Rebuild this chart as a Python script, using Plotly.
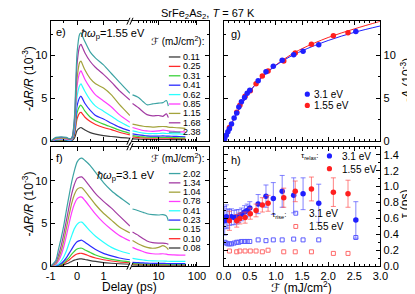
import plotly.graph_objects as go

W, H = 415, 294
def fx(p): return p / W
def fy(p): return 1 - p / H

FONT = "Liberation Sans, Arial, DejaVu Sans, sans-serif"

# ---------------- data ----------------
colors = ["#3c3c3c", "#ff2a2a", "#3cd23c", "#2a2aff", "#2affff", "#ff3cff", "#a3a33c", "#a33ca3", "#3ca3a3"]

# panel e (1.55 eV pump), fluences ascending
fluence_e = ["0.11", "0.25", "0.31", "0.41", "0.62", "0.85", "1.15", "1.68", "2.38"]
t_left_e = [-1.0, -0.8, -0.6, -0.4, -0.3, -0.2, -0.1, 0.0, 0.1, 0.15, 0.2, 0.3, 0.5, 0.7, 1.0, 1.3, 1.6, 2.0]
t_right = [2.1, 3, 4, 5, 7, 10, 13, 16, 18, 25, 35, 50]

e_left_011 = [0, 0.05, 0.05, 0.05, 0.02, 0.05, 0.35, 1.25, 1.55, 1.6, 1.5, 1.3, 1.0, 0.82, 0.65, 0.55, 0.45, 0.35]
e_left_025 = [0, 0.1, 0.1, 0.1, 0.05, 0.1, 0.7, 2.6, 3.3, 3.37, 3.2, 2.8, 2.3, 1.95, 1.6, 1.35, 1.05, 0.75]
e_left_031 = [0, 0.1, 0.15, 0.1, 0.05, 0.1, 0.9, 3.3, 4.1, 4.2, 4.0, 3.5, 2.8, 2.4, 2.0, 1.65, 1.3, 0.92]
e_left_041 = [0, 0.15, 0.2, 0.15, 0.1, 0.15, 1.1, 4.1, 5.1, 5.25, 5.0, 4.4, 3.6, 3.0, 2.6, 2.1, 1.65, 1.2]
e_left_062 = [0, 0.2, 0.25, 0.2, 0.1, 0.2, 1.4, 5.2, 6.5, 6.7, 6.4, 5.8, 4.8, 4.1, 3.5, 2.9, 2.3, 1.65]
e_left_085 = [0, 0.25, 0.3, 0.25, 0.15, 0.25, 1.7, 6.4, 8.0, 8.2, 7.9, 7.2, 6.2, 5.4, 4.7, 4.0, 3.1, 2.2]
e_left_115 = [0, 0.3, 0.35, 0.3, 0.2, 0.3, 1.9, 7.3, 9.2, 9.35, 9.0, 8.3, 7.3, 6.7, 6.2, 5.4, 4.3, 3.0]
e_left_168 = [0, 0.4, 0.45, 0.4, 0.25, 0.35, 2.4, 9.0, 11.1, 11.3, 11.0, 10.3, 9.3, 8.6, 7.8, 6.9, 5.9, 4.8]
e_left_238 = [0, 0.45, 0.5, 0.45, 0.3, 0.4, 2.8, 10.3, 12.5, 12.65, 12.3, 11.6, 10.4, 9.7, 8.9, 7.9, 6.9, 5.6]

e_right_011 = [0.27, 0.24, 0.22, 0.21, 0.2, 0.2, 0.2, 0.2, 0.2, 0.19, 0.18, 0.18]
e_right_025 = [0.5, 0.42, 0.38, 0.36, 0.35, 0.35, 0.35, 0.35, 0.35, 0.33, 0.32, 0.3]
e_right_031 = [0.65, 0.55, 0.5, 0.47, 0.45, 0.45, 0.46, 0.45, 0.45, 0.42, 0.4, 0.4]
e_right_041 = [0.85, 0.75, 0.68, 0.63, 0.6, 0.6, 0.62, 0.6, 0.6, 0.57, 0.55, 0.52]
e_right_062 = [1.2, 1.05, 0.95, 0.9, 0.9, 0.9, 0.95, 0.9, 0.9, 0.85, 0.85, 0.8]
e_right_085 = [1.6, 1.4, 1.25, 1.2, 1.15, 1.2, 1.3, 1.25, 1.2, 1.15, 1.1, 1.1]
e_right_115 = [2.0, 1.85, 1.75, 1.7, 1.65, 1.7, 1.72, 1.7, 1.65, 1.6, 1.55, 1.5]
e_right_168 = [4.4, 3.9, 3.4, 3.1, 2.95, 3.0, 2.9, 3.2, 2.75, None, None, None]
e_right_238 = [5.4, 5.1, 4.6, 4.25, 4.35, 4.45, 4.5, 4.75, 4.1, None, None, None]

# panel f (3.1 eV pump), fluences ascending
fluence_f = ["0.08", "0.10", "0.15", "0.23", "0.41", "0.78", "1.04", "1.34", "2.02"]
t_left_f = [-1.0, -0.8, -0.7, -0.6, -0.5, -0.4, -0.3, -0.2, -0.1, 0.0, 0.1, 0.18, 0.3, 0.5, 0.7, 1.0, 1.3, 1.6, 2.0]

f_left_008 = [0, 0.01, 0.04, 0.08, 0.15, 0.27, 0.4, 0.55, 0.7, 0.8, 0.85, 0.85, 0.78, 0.65, 0.55, 0.42, 0.34, 0.28, 0.22]
f_left_010 = [0, 0.02, 0.07, 0.15, 0.28, 0.5, 0.72, 1.0, 1.25, 1.42, 1.5, 1.5, 1.38, 1.15, 0.95, 0.75, 0.6, 0.48, 0.38]
f_left_015 = [0, 0.03, 0.1, 0.2, 0.4, 0.7, 1.0, 1.4, 1.75, 2.0, 2.1, 2.1, 1.9, 1.6, 1.3, 1.0, 0.8, 0.65, 0.5]
f_left_023 = [0, 0.05, 0.15, 0.3, 0.6, 1.0, 1.5, 2.0, 2.5, 2.85, 3.0, 3.04, 2.8, 2.35, 1.95, 1.5, 1.2, 0.95, 0.75]
f_left_041 = [0, 0.1, 0.25, 0.6, 1.1, 1.8, 2.7, 3.6, 4.4, 4.9, 5.15, 5.16, 4.8, 4.1, 3.5, 2.8, 2.2, 1.8, 1.45]
f_left_078 = [0, 0.2, 0.6, 1.3, 2.3, 3.6, 5.0, 6.3, 7.3, 7.9, 8.1, 8.1, 7.7, 6.9, 6.1, 5.1, 4.3, 3.6, 2.95]
f_left_104 = [0, 0.3, 0.9, 1.8, 3.0, 4.5, 6.0, 7.4, 8.4, 9.0, 9.2, 9.2, 8.8, 8.0, 7.2, 6.2, 5.4, 4.6, 3.9]
f_left_134 = [0, 0.5, 1.3, 2.4, 3.8, 5.4, 7.0, 8.5, 9.6, 10.3, 10.45, 10.47, 10.1, 9.3, 8.5, 7.6, 6.8, 5.9, 4.7]
f_left_202 = [0, 0.7, 2.0, 3.3, 4.8, 6.6, 8.3, 9.9, 11.2, 12.2, 12.6, 12.67, 12.4, 11.8, 11.0, 9.8, 8.85, 8.1, 7.2]

f_right_008 = [0.13, 0.12, 0.11, 0.11, 0.1, 0.1, 0.1, 0.1, 0.1, 0.1, 0.1, 0.1]
f_right_010 = [0.22, 0.2, 0.19, 0.18, 0.17, 0.17, 0.17, 0.17, 0.16, 0.16, 0.16, 0.15]
f_right_015 = [0.3, 0.27, 0.25, 0.24, 0.23, 0.22, 0.22, 0.22, 0.21, 0.21, 0.2, 0.2]
f_right_023 = [0.45, 0.4, 0.37, 0.35, 0.33, 0.32, 0.32, 0.31, 0.3, 0.3, 0.3, 0.3]
f_right_041 = [0.9, 0.8, 0.72, 0.66, 0.62, 0.6, 0.6, 0.58, 0.57, 0.56, 0.55, 0.55]
f_right_078 = [2.2, 1.9, 1.7, 1.55, 1.45, 1.42, 1.45, 1.4, 1.35, 1.32, 1.3, 1.3]
f_right_104 = [3.0, 2.6, 2.35, 2.2, 2.1, 2.2, 2.4, 2.2, 1.95, None, None, None]
f_right_134 = [4.0, 3.6, 3.2, 2.95, 2.75, 2.7, 2.7, 2.65, 2.55, None, None, None]
f_right_202 = [6.7, 6.5, 6.3, 6.15, 6.05, 6.0, 6.05, 5.9, 5.3, None, None, None]

# panels g, h
F_blue = [0.02, 0.05, 0.08, 0.11, 0.15, 0.20, 0.25, 0.29, 0.34, 0.40, 0.45, 0.50, 0.66, 0.81, 0.95, 1.12, 1.34, 1.52, 1.82, 2.53]
A_blue = [0.3, 0.7, 1.1, 1.45, 2.0, 2.7, 3.3, 4.0, 4.6, 5.1, 5.6, 5.95, 7.05, 8.1, 8.75, 9.45, 10.1, 10.5, 11.25, 12.8]
relax_blue = [0.57, 0.62, 0.60, 0.61, 0.62, 0.61, 0.62, 0.63, 0.65, 0.68, 0.70, 0.73, 0.78, 0.88, 0.85, 0.94, 0.89, 0.91, 0.79, 0.58]
relax_blue_err = [0.18, 0.15, 0.12, 0.10, 0.10, 0.09, 0.09, 0.08, 0.08, 0.08, 0.08, 0.08, 0.12, 0.14, 0.20, 0.20, 0.22, 0.20, 0.24, 0.23]
rise_blue = [0.30, 0.29, 0.28, 0.28, 0.28, 0.29, 0.30, 0.30, 0.31, 0.31, 0.31, 0.31, 0.33, 0.32, 0.33, 0.33, 0.34, 0.33, 0.33, 0.36]

F_red = [0.11, 0.25, 0.31, 0.41, 0.51, 0.62, 0.74, 0.85, 1.15, 1.37, 1.68, 2.10, 2.38]
A_red = [1.6, 3.37, 4.2, 5.25, 5.9, 6.7, 7.6, 8.2, 9.35, 10.3, 11.3, 12.3, 12.65]
relax_red = [0.57, 0.57, 0.60, 0.61, 0.66, 0.70, 0.77, 0.79, 0.86, 0.94, 0.97, 0.93, 0.91]
relax_red_err = [0.12, 0.08, 0.07, 0.07, 0.07, 0.08, 0.09, 0.10, 0.12, 0.13, 0.15, 0.18, 0.17]
rise_red = [0.19, 0.18, 0.19, 0.19, 0.19, 0.19, 0.18, 0.20, 0.18, 0.18, 0.18, 0.16, 0.16]

F_fit = [0, 0.05, 0.1, 0.2, 0.3, 0.4, 0.5, 0.75, 1.0, 1.25, 1.5, 2.0, 2.5, 3.0]
fit_blue = [0, 0.65, 1.35, 2.65, 3.8, 4.85, 5.8, 7.55, 8.85, 9.8, 10.55, 11.75, 12.7, 13.45]
fit_red = [0, 0.65, 1.35, 2.65, 3.8, 4.85, 5.8, 7.6, 8.9, 9.95, 10.8, 12.1, 13.1, 14.0]

# ---------------- figure ----------------
fig = go.Figure()

e_left = [e_left_011, e_left_025, e_left_031, e_left_041, e_left_062, e_left_085, e_left_115, e_left_168, e_left_238]
e_right = [e_right_011, e_right_025, e_right_031, e_right_041, e_right_062, e_right_085, e_right_115, e_right_168, e_right_238]
f_left = [f_left_008, f_left_010, f_left_015, f_left_023, f_left_041, f_left_078, f_left_104, f_left_134, f_left_202]
f_right = [f_right_008, f_right_010, f_right_015, f_right_023, f_right_041, f_right_078, f_right_104, f_right_134, f_right_202]

def ln(c):
    return dict(color=c, width=1.2, shape="spline", smoothing=0.7)

for i in range(9):
    fig.add_trace(go.Scatter(x=t_left_e, y=e_left[i], mode="lines", line=ln(colors[i]),
                             xaxis="x", yaxis="y", showlegend=False, hoverinfo="skip"))
    fig.add_trace(go.Scatter(x=t_right, y=e_right[i], mode="lines", line=ln(colors[i]),
                             xaxis="x2", yaxis="y2", showlegend=False, hoverinfo="skip"))
    fig.add_trace(go.Scatter(x=t_left_f, y=f_left[i], mode="lines", line=ln(colors[i]),
                             xaxis="x3", yaxis="y3", showlegend=False, hoverinfo="skip"))
    fig.add_trace(go.Scatter(x=t_right, y=f_right[i], mode="lines", line=ln(colors[i]),
                             xaxis="x4", yaxis="y4", showlegend=False, hoverinfo="skip"))

BLUE = "#1f1fff"
RED = "#ff1f1f"
LBLUE = "#5a5aff"
LRED = "#ff6a6a"

# panel g
fig.add_trace(go.Scatter(x=F_fit, y=fit_red, mode="lines", line=dict(color=RED, width=1, shape="spline"),
                         xaxis="x5", yaxis="y5", showlegend=False))
fig.add_trace(go.Scatter(x=F_fit, y=fit_blue, mode="lines", line=dict(color=BLUE, width=1, shape="spline"),
                         xaxis="x5", yaxis="y5", showlegend=False))
fig.add_trace(go.Scatter(x=F_red, y=A_red, mode="markers", marker=dict(color=RED, size=5.5, symbol="circle"),
                         xaxis="x5", yaxis="y5", showlegend=False))
fig.add_trace(go.Scatter(x=F_blue, y=A_blue, mode="markers", marker=dict(color=BLUE, size=5.5, symbol="circle"),
                         xaxis="x5", yaxis="y5", showlegend=False))

# panel h
fig.add_trace(go.Scatter(x=F_blue, y=rise_blue, mode="markers",
                         marker=dict(color=LBLUE, size=4, symbol="square-open", line=dict(color=LBLUE, width=1)),
                         xaxis="x6", yaxis="y6", showlegend=False))
fig.add_trace(go.Scatter(x=F_red, y=rise_red, mode="markers",
                         marker=dict(color=LRED, size=4, symbol="square-open", line=dict(color=LRED, width=1)),
                         xaxis="x6", yaxis="y6", showlegend=False))
fig.add_trace(go.Scatter(x=F_blue, y=relax_blue, mode="markers",
                         marker=dict(color=BLUE, size=5.5),
                         error_y=dict(type="data", array=relax_blue_err, color="rgba(80,80,255,0.7)", thickness=1, width=2.5),
                         xaxis="x6", yaxis="y6", showlegend=False))
fig.add_trace(go.Scatter(x=F_red, y=relax_red, mode="markers",
                         marker=dict(color=RED, size=5.5),
                         error_y=dict(type="data", array=relax_red_err, color="rgba(255,80,80,0.7)", thickness=1, width=2.5),
                         xaxis="x6", yaxis="y6", showlegend=False))

# ---------------- axes ----------------
TF = dict(family=FONT, size=11, color="black")
def base(**kw):
    d = dict(showline=True, linecolor="black", linewidth=1, ticks="inside", tickcolor="black",
             ticklen=4, tickwidth=1, showgrid=False, zeroline=False, tickfont=TF)
    d.update(kw)
    return d

def minor(**kw):
    d = dict(ticks="inside", ticklen=2, tickcolor="black", tickwidth=1, showgrid=False)
    d.update(kw)
    return d

XL = [fx(36), fx(118.5)]
XR = [fx(118.5), fx(201)]
XG = [fx(216), fx(379)]
YT = [fy(136), fy(13.5)]
YB = [fy(263.5), fy(141.7)]

log_minor = [3, 4, 5, 6, 7, 8, 9, 20, 30, 40, 50, 60, 70, 80, 90, 200]

fig.update_layout(
    xaxis=base(domain=XL, range=[-1, 2], anchor="y", tickvals=[-1, 0, 1], showticklabels=False,
               mirror="ticks", minor=minor(tickvals=[-0.5, 0.5, 1.5])),
    xaxis2=base(domain=XR, type="log", range=[0.255, 2.32], anchor="y2", tickvals=[10, 100],
                showticklabels=False, mirror="ticks", minor=minor(tickvals=log_minor)),
    yaxis=base(domain=YT, range=[0, 14], anchor="x", tickvals=[0, 5, 10], minor=minor(dtick=2.5, tick0=0)),
    yaxis2=base(domain=YT, range=[0, 14], anchor="x2", side="right", tickvals=[0, 5, 10],
                showticklabels=False, minor=minor(dtick=2.5, tick0=0)),
    xaxis3=base(domain=XL, range=[-1, 2], anchor="y3", tickvals=[-1, 0, 1], ticktext=["-1", "0", "1"],
                mirror="ticks", minor=minor(tickvals=[-0.5, 0.5, 1.5])),
    xaxis4=base(domain=XR, type="log", range=[0.255, 2.32], anchor="y4", tickvals=[10, 100],
                ticktext=["10", "100"], mirror="ticks", minor=minor(tickvals=log_minor)),
    yaxis3=base(domain=YB, range=[0, 14], anchor="x3", tickvals=[0, 5, 10], minor=minor(dtick=2.5, tick0=0)),
    yaxis4=base(domain=YB, range=[0, 14], anchor="x4", side="right", tickvals=[0, 5, 10],
                showticklabels=False, minor=minor(dtick=2.5, tick0=0)),
    xaxis5=base(domain=XG, range=[0, 3], anchor="y5", dtick=0.5, showticklabels=False, mirror="ticks",
                minor=minor(dtick=0.1, tick0=0)),
    yaxis5=base(domain=YT, range=[0, 14], anchor="x5", side="right", tickvals=[0, 5, 10], mirror="ticks",
                minor=minor(dtick=2.5, tick0=0)),
    xaxis6=base(domain=XG, range=[0, 3], anchor="y6", dtick=0.5, tickformat=".1f", mirror="ticks",
                minor=minor(dtick=0.1, tick0=0)),
    yaxis6=base(domain=YB, range=[0, 1.5], anchor="x6", side="right", dtick=0.2, tick0=0, tickformat=".1f",
                mirror="ticks", minor=minor(dtick=0.1, tick0=0)),
)

# ---------------- annotations ----------------
ann = []
def A(x, y, text, size=11, xanchor="left", yanchor="middle", angle=0):
    ann.append(dict(x=fx(x), y=fy(y), xref="paper", yref="paper", text=text, showarrow=False,
                    xanchor=xanchor, yanchor=yanchor, textangle=angle,
                    font=dict(family=FONT, size=size, color="black")))

A(200, 6.5, "SrFe<sub>2</sub>As<sub>2</sub>, <i>T</i> = 67 K", 11, "center")
A(40, 25, "e)", 11)
A(66, 27, "<i>ħω</i><sub>p</sub>=1.55 eV", 11)
A(138, 34, "<i>ℱ</i> (mJ/cm<sup>2</sup>):", 10)
A(40, 153, "f)", 11)
A(82, 172, "<i>ħω</i><sub>p</sub>=3.1 eV", 11)
A(138, 153, "<i>ℱ</i> (mJ/cm<sup>2</sup>):", 10)
A(222, 27, "g)", 11)
A(222, 155, "h)", 11)
A(12, 72, "-<i>ΔR/R</i> (10<sup>-3</sup>)", 12, "center", "middle", -90)
A(12, 200, "-<i>ΔR/R</i> (10<sup>-3</sup>)", 12, "center", "middle", -90)
A(405, 73, "-<i>A</i> (10<sup>-3</sup>)", 12, "center", "middle", -90)
A(405, 200, "τ (ps)", 12, "center", "middle", -90)
A(118, 285, "Delay (ps)", 12, "center")
A(297, 284.5, "<i>ℱ</i> (mJ/cm<sup>2</sup>)", 12, "center")

# g legend
A(308, 88, "3.1 eV", 10)
A(308, 99.5, "1.55 eV", 10)
# h legend
A(317, 151.5, "τ<sub>relax</sub>:", 8, "right")
A(337, 151.5, "3.1 eV", 10)
A(337, 164.5, "1.55 eV", 10)
A(283, 211.5, "τ<sub>rise</sub>:", 8, "right")
A(303, 209.5, "3.1 eV", 10)
A(303, 223, "1.55 eV", 10)

shapes = []
# legends of e and f
for k in range(9):
    ye = 50 + k * 9.6
    shapes.append(dict(type="line", xref="paper", yref="paper", x0=fx(159), x1=fx(171), y0=fy(ye), y1=fy(ye),
                       line=dict(color=colors[k], width=1.3)))
    A(172, ye, fluence_e[k], 9)
    yf = 169 + k * 9.5
    j = 8 - k
    shapes.append(dict(type="line", xref="paper", yref="paper", x0=fx(159), x1=fx(171), y0=fy(yf), y1=fy(yf),
                       line=dict(color=colors[j], width=1.3)))
    A(172, yf, fluence_f[j], 9)

def dot(x, y, c, r=2.7):
    shapes.append(dict(type="circle", xref="paper", yref="paper", x0=fx(x - r), x1=fx(x + r),
                       y0=fy(y + r), y1=fy(y - r), fillcolor=c, line=dict(width=0)))

def sq(x, y, c, r=2.0):
    shapes.append(dict(type="rect", xref="paper", yref="paper", x0=fx(x - r), x1=fx(x + r),
                       y0=fy(y + r), y1=fy(y - r), fillcolor="rgba(0,0,0,0)", line=dict(width=1, color=c)))

dot(303, 88, BLUE)
dot(303, 99.5, RED)
dot(326, 151, BLUE)
dot(326, 164, RED)
sq(291, 209.5, LBLUE)
sq(291, 223, LRED)

# axis break marks
for yb in [13.5, 136, 141.7, 263.5]:
    shapes.append(dict(type="rect", xref="paper", yref="paper", x0=fx(116.8), x1=fx(120.2),
                       y0=fy(yb + 1), y1=fy(yb - 1), fillcolor="white", line=dict(width=0)))
    for dx in (-1.6, 1.6):
        shapes.append(dict(type="line", xref="paper", yref="paper",
                           x0=fx(118.5 + dx - 1.6), x1=fx(118.5 + dx + 1.6),
                           y0=fy(yb + 3.5), y1=fy(yb - 3.5), line=dict(color="black", width=1)))

fig.update_layout(
    width=W, height=H, autosize=False,
    margin=dict(l=0, r=0, t=0, b=0),
    paper_bgcolor="white", plot_bgcolor="white",
    annotations=ann, shapes=shapes, showlegend=False,
    font=dict(family=FONT, color="black"),
)

fig.write_html("out.html")
